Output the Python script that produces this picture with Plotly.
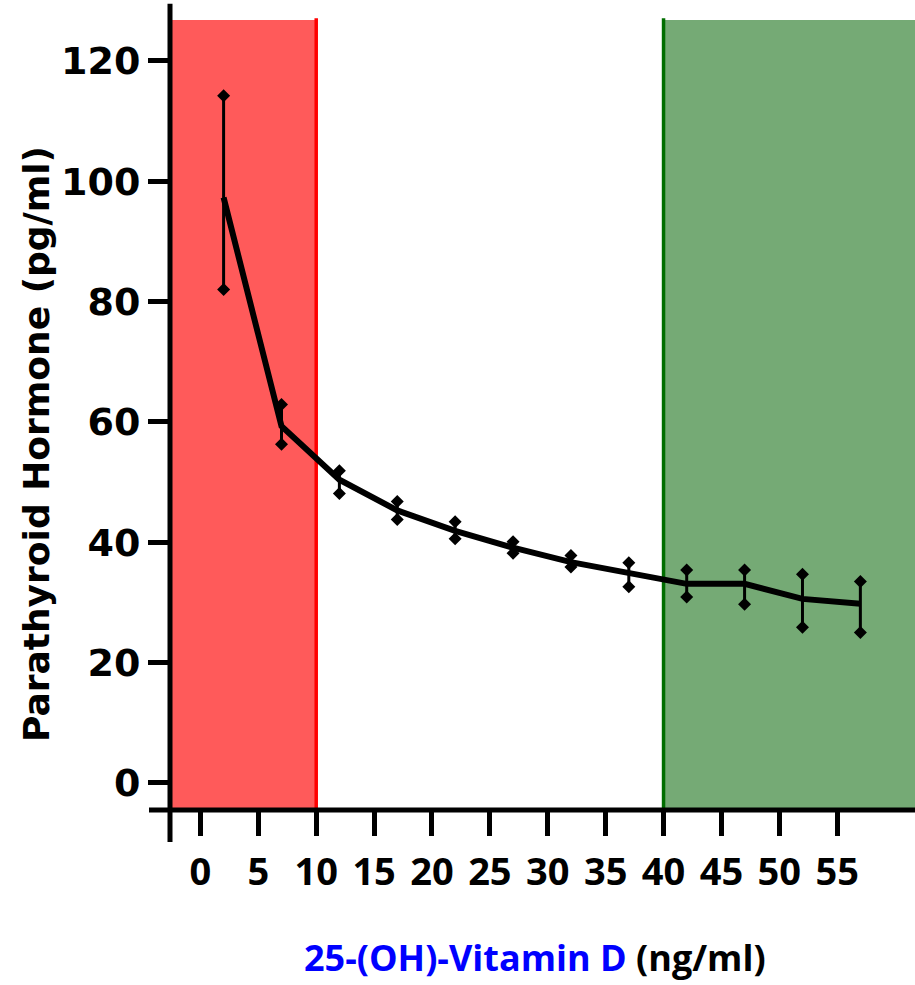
import plotly.graph_objects as go

# Data
vitd = [2, 7, 12, 17, 22, 27, 32, 37, 42, 47, 52, 57]
pth_mean = [97.3, 59.3, 50.4, 45.3, 41.9, 39.1, 36.7, 34.8, 33.1, 33.1, 30.6, 29.8]
pth_upper = [114.2, 62.9, 51.9, 46.8, 43.4, 40.1, 37.8, 36.6, 35.4, 35.4, 34.7, 33.5]
pth_lower = [82.0, 56.3, 48.1, 43.8, 40.6, 38.2, 35.9, 32.6, 30.9, 29.7, 25.9, 25.0]

x_ticks = [0, 5, 10, 15, 20, 25, 30, 35, 40, 45, 50, 55]
y_ticks = [0, 20, 40, 60, 80, 100, 120]

deficient_limit = 10
sufficient_limit = 40

X_RANGE = [-2.63, 61.72]
Y_RANGE = [-4.49, 129.3]
ZONE_TOP = 126.8

fig = go.Figure()

# error bar stems
ex, ey = [], []
for xv, lo, hi in zip(vitd, pth_lower, pth_upper):
    ex += [xv, xv, None]
    ey += [lo, hi, None]
fig.add_trace(go.Scatter(x=ex, y=ey, mode="lines",
                         line=dict(color="black", width=3),
                         hoverinfo="skip", showlegend=False))

# mean line
fig.add_trace(go.Scatter(x=vitd, y=pth_mean, mode="lines",
                         line=dict(color="black", width=6),
                         showlegend=False))

# diamond caps
fig.add_trace(go.Scatter(x=vitd + vitd, y=pth_upper + pth_lower, mode="markers",
                         marker=dict(symbol="diamond", size=10, color="black"),
                         showlegend=False))

shapes = [
    # deficient zone
    dict(type="rect", xref="x", yref="y", x0=X_RANGE[0], x1=deficient_limit,
         y0=Y_RANGE[0], y1=ZONE_TOP, fillcolor="rgb(255,90,90)",
         line=dict(width=0), layer="below"),
    dict(type="line", xref="x", yref="y", x0=deficient_limit, x1=deficient_limit,
         y0=Y_RANGE[0], y1=ZONE_TOP + 0.3, line=dict(color="rgb(255,0,0)", width=3.5),
         layer="below"),
    # sufficient zone
    dict(type="rect", xref="x", yref="y", x0=sufficient_limit, x1=X_RANGE[1],
         y0=Y_RANGE[0], y1=ZONE_TOP, fillcolor="rgb(117,170,117)",
         line=dict(width=0), layer="below"),
    dict(type="line", xref="x", yref="y", x0=sufficient_limit, x1=sufficient_limit,
         y0=Y_RANGE[0], y1=ZONE_TOP + 0.3, line=dict(color="rgb(0,110,0)", width=3.5),
         layer="below"),
    # axis lines
    dict(type="line", xref="paper", yref="paper", x0=0, x1=0,
         y0=-32 / 805, y1=1.0015, line=dict(color="black", width=5)),
    dict(type="line", xref="paper", yref="paper", x0=-21 / 745, x1=1,
         y0=0, y1=0, line=dict(color="black", width=5)),
]

fig.update_layout(
    width=915, height=985,
    margin=dict(l=170, r=0, t=5, b=175),
    plot_bgcolor="white", paper_bgcolor="white",
    shapes=shapes,
    showlegend=False,
    xaxis=dict(range=X_RANGE, tickmode="array", tickvals=x_ticks,
               ticktext=[str(v) for v in x_ticks],
               ticks="outside", ticklen=25, tickwidth=5, tickcolor="black",
               showgrid=False, zeroline=False, showline=False,
               tickfont=dict(family="Open Sans", size=38, color="black", weight="bold"),
               ticklabelstandoff=3),
    yaxis=dict(range=Y_RANGE, tickmode="array", tickvals=y_ticks,
               ticktext=[str(v) for v in y_ticks],
               ticks="outside", ticklen=21, tickwidth=5, tickcolor="black",
               showgrid=False, zeroline=False, showline=False,
               tickfont=dict(family="DejaVu Sans", size=38, color="black", weight="bold"),
               ticklabelstandoff=0),
    annotations=[
        dict(text="Parathyroid Hormone (pg/ml)", xref="paper", yref="paper",
             x=(36 - 170) / 745, y=(810 - 444) / 805, textangle=-90,
             xanchor="center", yanchor="middle", showarrow=False,
             font=dict(family="DejaVu Sans", size=36, color="black", weight="bold")),
        dict(text="<span style='color:rgb(0,0,255)'>25-(OH)-Vitamin D</span> (ng/ml)",
             xref="paper", yref="paper",
             x=(535 - 170) / 745, y=(810 - 957) / 805,
             xanchor="center", yanchor="middle", showarrow=False,
             font=dict(family="Open Sans", size=36, color="black", weight="bold")),
    ],
)

fig.write_html("out.html")
